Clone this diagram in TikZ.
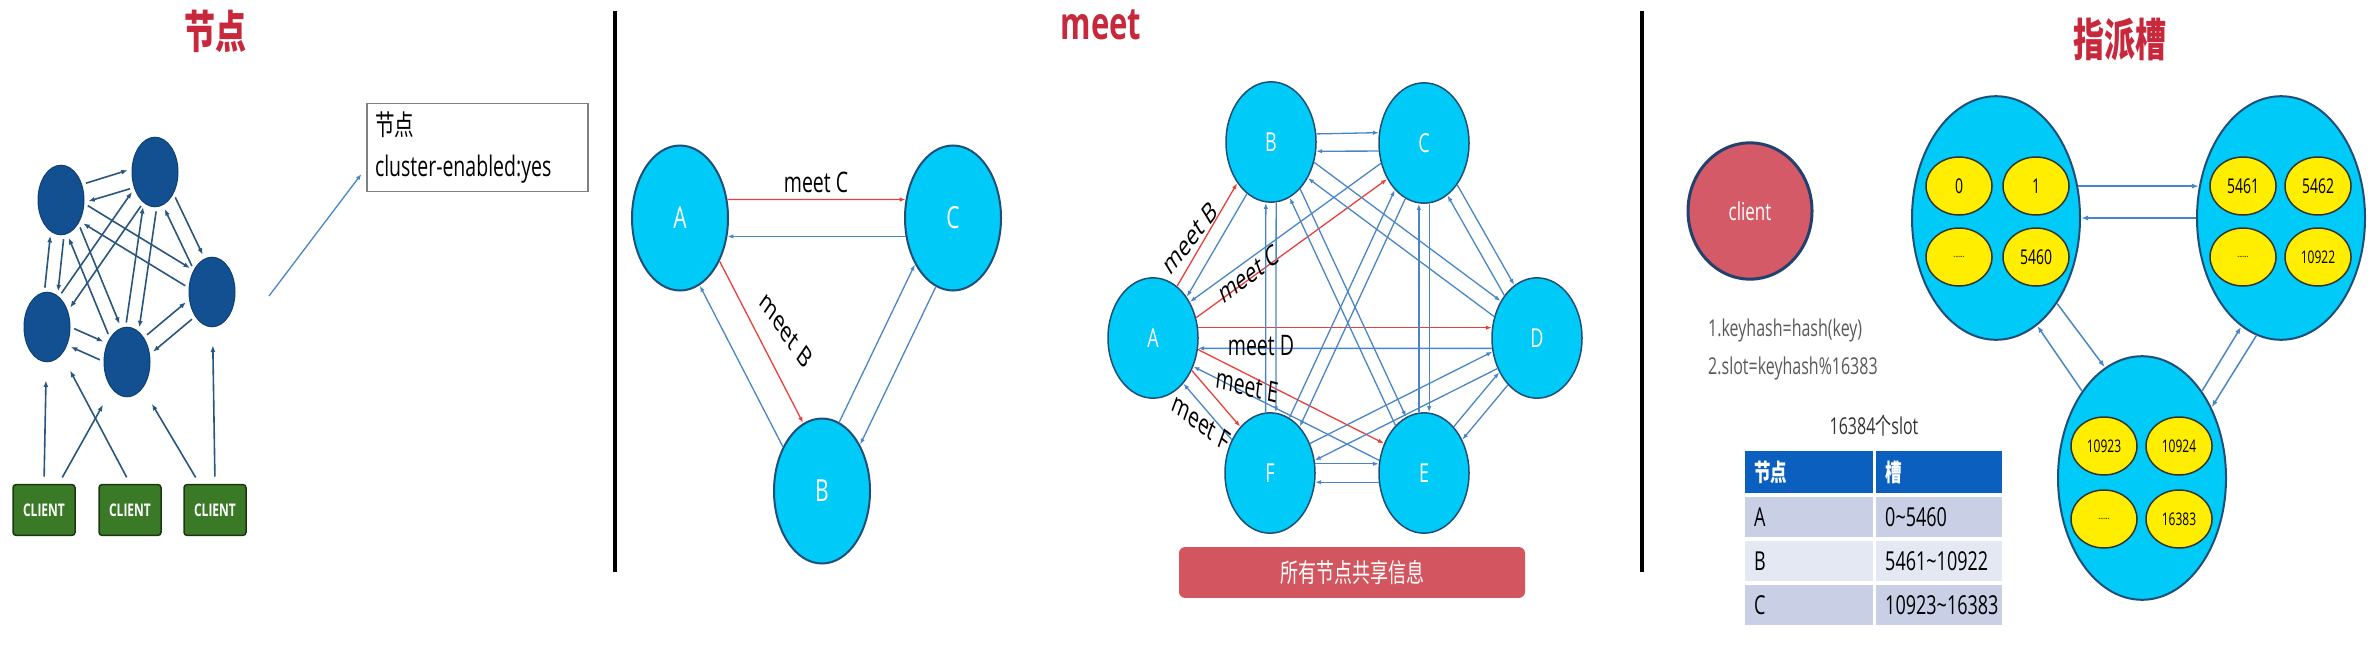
\documentclass[tikz,border=0pt]{standalone}
\usepackage{fontspec}
\setmainfont{Open Sans}
\newfontfamily\cjk{Noto Sans CJK SC}
\usetikzlibrary{calc,arrows.meta,shapes.geometric}

\definecolor{titlered}{HTML}{C8283C}
\definecolor{darknode}{HTML}{125091}
\definecolor{darkedge}{HTML}{28567F}
\definecolor{clientgreen}{HTML}{3A7A27}
\definecolor{nodecyan}{HTML}{00CBF8}
\definecolor{nodeborder}{HTML}{1F4E79}
\definecolor{linkblue}{HTML}{4A86C6}
\definecolor{meetred}{HTML}{E8413C}
\definecolor{barred}{HTML}{D2555F}
\definecolor{clientred}{HTML}{D35A66}
\definecolor{clientedge}{HTML}{23406E}
\definecolor{slotyellow}{HTML}{FFEE00}
\definecolor{tablehead}{HTML}{0B5FBF}
\definecolor{rowdark}{HTML}{C9D0E6}
\definecolor{rowlight}{HTML}{E4E8F3}

\tikzset{
    every node/.style={yscale=1.45, transform shape},
    title/.style={text=titlered, font=\cjk\bfseries\fontsize{31}{36}\selectfont},
    titlelatin/.style={text=titlered, font=\bfseries\fontsize{31}{36}\selectfont},
    darkball/.style={ellipse, fill=darknode, draw=darknode!80!black, line width=1pt, minimum width=46pt, minimum height=48pt, inner sep=0pt},
    clientbox/.style={rectangle, rounded corners=3pt, fill=clientgreen, draw=clientgreen!45!black, line width=1.5pt, minimum width=62pt, minimum height=35pt, inner sep=0pt, text=white, font=\bfseries\fontsize{12}{12}\selectfont},
    infobox/.style={draw=black!50, line width=1.2pt, text width=205pt, inner xsep=8pt, inner ysep=0pt, minimum height=61pt, align=left, font=\fontsize{19.5}{28}\selectfont},
    darklink/.style={draw=darkedge, line width=1.6pt, -{Latex[length=6.5pt,width=5pt]}, shorten <=4pt, shorten >=4pt},
    clientlink/.style={darklink, shorten <=7pt, shorten >=18pt},
    bluelink/.style={draw=linkblue, line width=1.3pt, -{Latex[length=6pt,width=4.5pt]}},
    redlink/.style={bluelink, draw=meetred},
    ball/.style={ellipse, fill=nodecyan, draw=nodeborder, line width=2pt, text=white, inner sep=0pt},
    meetball/.style={ball, minimum width=96pt, minimum height=100pt, font=\fontsize{21}{21}\selectfont},
    hexball/.style={ball, line width=1.5pt, minimum width=90pt, minimum height=83pt, font=\fontsize{18}{18}\selectfont},
    meetlabel/.style={inner sep=0pt, font=\fontsize{19.5}{20}\selectfont},
    sharebar/.style={rectangle, rounded corners=6pt, fill=barred, minimum width=346pt, minimum height=35pt, text=white, font=\cjk\fontsize{18}{18}\selectfont},
    clientball/.style={ellipse, fill=clientred, draw=clientedge, line width=3pt, minimum width=124pt, minimum height=94pt, text=white, font=\fontsize{17}{17}\selectfont},
    note/.style={inner sep=0pt, text=black!65, font=\fontsize{16}{16}\selectfont},
    headcell/.style={anchor=north west, fill=tablehead, text=white, inner xsep=9pt, inner ysep=0pt, minimum height=29pt, align=left, font=\cjk\bfseries\fontsize{16.5}{17}\selectfont},
    rowcell/.style={headcell, text=black, minimum height=27.6pt, font=\fontsize{18}{18}\selectfont},
    cellbox/.style={ellipse, fill=nodecyan, draw=nodeborder, line width=2pt, minimum width=168pt, minimum height=168pt},
    slot/.style={ellipse, fill=slotyellow, draw=black!80, line width=1.5pt, minimum width=66pt, minimum height=40pt, inner sep=0pt, font=\fontsize{14}{14}\selectfont},
    slotlink/.style={draw=linkblue, line width=1.5pt, -{Latex[length=7pt,width=5pt]}},
    sepline/.style={line width=4pt}
}

\begin{document}
\begin{tikzpicture}[x=1pt, y=-1pt]
    \useasboundingbox (0,0) rectangle (2371,669);

    \node[title] (nodetitle) at (215,31) {节点};
    \node[titlelatin] (meettitle) at (1101,25) {meet};
    \node[title] (slottitle) at (2120,40) {指派槽};

    \draw[sepline] (614.5,11) -- (614.5,572);
    \draw[sepline] (1642,11) -- (1642,572);

    \node[darkball] (n1) at (61,200) {};
    \node[darkball] (n2) at (155,172) {};
    \node[darkball] (n3) at (212,292) {};
    \node[darkball] (n4) at (47,327) {};
    \node[darkball] (n5) at (127,362) {};

    \node[clientbox] (c1) at (44,510) {CLIENT};
    \node[clientbox] (c2) at (130,510) {CLIENT};
    \node[clientbox] (c3) at (215,510) {CLIENT};

    \foreach \na/\nb in {n1/n2, n1/n4, n1/n3, n1/n5, n2/n4, n2/n5, n2/n3, n4/n5, n5/n3} {
        \draw[darklink] let \p1=($(\nb)-(\na)$), \n1={atan2(\y1/1.45,\x1)+16}, \n2={\n1+180-32} in (\na.\n1) -- (\nb.\n2);
        \draw[darklink] let \p1=($(\nb)-(\na)$), \n1={atan2(\y1/1.45,\x1)-16}, \n2={\n1+180+32} in (\nb.\n2) -- (\na.\n1);
    }

    \draw[clientlink] (c1.north) -- (n4);
    \draw[clientlink] (c1) -- (n5);
    \draw[clientlink] (c2.north) -- (n4);
    \draw[clientlink] (c3) -- (n5);
    \draw[clientlink] (c3.north) -- (n3);

    \node[infobox] (info) at (477.5,147.5) {{\cjk 节点}\\cluster-enabled:yes};
    \coordinate (infofrom) at (269,296);
    \draw[bluelink] (infofrom) -- ([shift={(-5,26.5)}]info.west);

    \node[meetball] (tA) at (680,218) {A};
    \node[meetball] (tC) at (953,218) {C};
    \node[meetball] (tB) at (822,491) {B};

    \foreach \na/\nb/\cgo/\cback in {tA/tC/redlink/bluelink, tA/tB/redlink/bluelink, tB/tC/bluelink/bluelink} {
        \draw[\cgo] let \p1=($(\nb)-(\na)$), \n1={atan2(\y1/1.45,\x1)+15}, \n2={\n1+180-30} in (\na.\n1) -- (\nb.\n2);
        \draw[\cback] let \p1=($(\nb)-(\na)$), \n1={atan2(\y1/1.45,\x1)-15}, \n2={\n1+180+30} in (\nb.\n2) -- (\na.\n1);
    }

    \node[meetlabel] (tmeetC) at (816,182) {meet C};
    \node[meetlabel, rotate=-45] (tmeetB) at (786,330) {meet B};

    \node[hexball] (hA) at (1153,338) {A};
    \node[hexball] (hB) at (1271,142) {B};
    \node[hexball] (hC) at (1424,143) {C};
    \node[hexball] (hD) at (1537,338) {D};
    \node[hexball] (hE) at (1424,473) {E};
    \node[hexball] (hF) at (1270,473) {F};

    \foreach \na/\nb/\off/\cgo in {hA/hB/8/redlink, hA/hC/-8/redlink, hA/hD/9/redlink, hA/hE/8/redlink, hA/hF/8/redlink,
                                   hB/hC/8/bluelink, hB/hD/8/bluelink, hB/hE/8/bluelink, hB/hF/7/bluelink, hC/hD/8/bluelink,
                                   hC/hE/7/bluelink, hC/hF/8/bluelink, hD/hE/8/bluelink, hD/hF/8/bluelink, hF/hE/8/bluelink} {
        \draw[\cgo] let \p1=($(\nb)-(\na)$), \n1={atan2(\y1/1.45,\x1)+\off}, \n2={\n1+180-2*\off} in (\na.\n1) -- (\nb.\n2);
        \draw[bluelink] let \p1=($(\nb)-(\na)$), \n1={atan2(\y1/1.45,\x1)-\off}, \n2={\n1+180+2*\off} in (\nb.\n2) -- (\na.\n1);
    }

    \node[meetlabel, rotate=42] (hmeetB) at (1190,238) {meet B};
    \node[meetlabel, rotate=28] (hmeetC) at (1249,274) {meet C};
    \node[meetlabel] (hmeetD) at (1261,346) {meet D};
    \node[meetlabel, rotate=-10] (hmeetE) at (1247,386) {meet E};
    \node[meetlabel, rotate=-28] (hmeetF) at (1201,422) {meet F};

    \node[sharebar] (share) at (1352,572.5) {所有节点共享信息};

    \node[clientball] (client) at (1750,211) {client};
    \node[note, anchor=west] (hash1) at (1708,330) {1.keyhash=hash(key)};
    \node[note, anchor=west] (hash2) at (1708,368) {2.slot=keyhash\%16383};
    \node[note, text=black!80] (count) at (1874,426) {16384{\cjk 个}slot};

    \node[headcell, text width=110pt] (head1) at (1745,451) {节点};
    \node[headcell, text width=108pt] (head2) at (1876,451) {槽};
    \node[rowcell, fill=rowdark, text width=110pt] (rowA) at (1745,497) {A};
    \node[rowcell, fill=rowdark, text width=108pt] (slotA) at (1876,497) {0\textasciitilde5460};
    \node[rowcell, fill=rowlight, text width=110pt] (rowB) at (1745,541) {B};
    \node[rowcell, fill=rowlight, text width=108pt] (slotB) at (1876,541) {5461\textasciitilde10922};
    \node[rowcell, fill=rowdark, text width=110pt] (rowC) at (1745,585) {C};
    \node[rowcell, fill=rowdark, text width=108pt] (slotC) at (1876,585) {10923\textasciitilde16383};

    \node[cellbox] (e1) at (1996,218) {};
    \node[cellbox] (e2) at (2281,218) {};
    \node[cellbox] (e3) at (2142,478) {};

    \node[slot] (s0) at (1959,186) {0};
    \node[slot] (s1) at (2036,186) {1};
    \node[slot, font=\fontsize{7}{7}\selectfont] (s2) at (1959,257) {......};
    \node[slot] (s5460) at (2036,257) {5460};
    \node[slot] (s5461) at (2243,186) {5461};
    \node[slot] (s5462) at (2318,186) {5462};
    \node[slot, font=\fontsize{7}{7}\selectfont] (s5463) at (2243,257) {......};
    \node[slot, font=\fontsize{12}{12}\selectfont] (s10922) at (2318,257) {10922};
    \node[slot, font=\fontsize{12}{12}\selectfont] (s10923) at (2104,446) {10923};
    \node[slot, font=\fontsize{12}{12}\selectfont] (s10924) at (2179,446) {10924};
    \node[slot, font=\fontsize{7}{7}\selectfont] (s10925) at (2104,519) {......};
    \node[slot, font=\fontsize{12}{12}\selectfont] (s16383) at (2179,519) {16383};

    \draw[slotlink] (e1.15) -- (e2.165);
    \draw[slotlink] (e2.180) -- (e1.0);
    \draw[slotlink] (e1.-44) -- (e3.116);
    \draw[slotlink] (e3.135) -- (e1.-61);
    \draw[slotlink] (e3.45) -- (e2.-118);
    \draw[slotlink] (e2.-107) -- (e3.35);
\end{tikzpicture}
\end{document}
